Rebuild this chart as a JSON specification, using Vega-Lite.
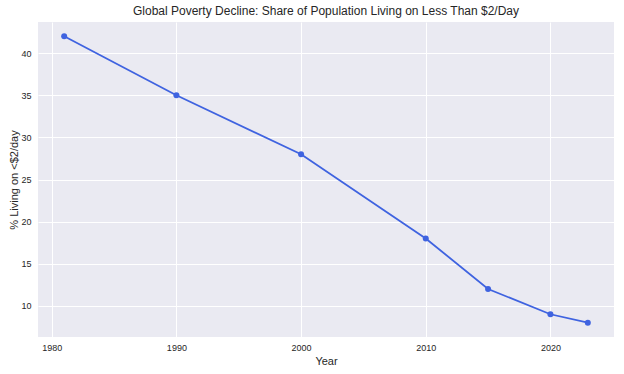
{
  "$schema": "https://vega.github.io/schema/vega-lite/v6.json",
  "width": 576,
  "height": 315,
  "autosize": {"type": "none"},
  "padding": {"left": 38, "top": 22, "right": 10, "bottom": 37},
  "background": "white",
  "title": {
    "text": "Global Poverty Decline: Share of Population Living on Less Than $2/Day",
    "font": "Liberation Sans",
    "fontSize": 12,
    "fontWeight": "normal",
    "color": "#262626",
    "anchor": "middle",
    "offset": 4
  },
  "config": {
    "view": {"fill": "#EAEAF2", "stroke": null},
    "axis": {
      "labelFont": "Liberation Sans",
      "titleFont": "Liberation Sans",
      "labelFontSize": 9,
      "titleFontSize": 11,
      "titleFontWeight": "normal",
      "labelColor": "#262626",
      "titleColor": "#262626",
      "gridColor": "white",
      "gridWidth": 1,
      "gridOpacity": 1,
      "domain": false,
      "ticks": false
    }
  },
  "data": {
    "values": [
      {"year": 1981, "pct": 42},
      {"year": 1990, "pct": 35},
      {"year": 2000, "pct": 28},
      {"year": 2010, "pct": 18},
      {"year": 2015, "pct": 12},
      {"year": 2020, "pct": 9},
      {"year": 2023, "pct": 8}
    ]
  },
  "mark": {"type": "line", "color": "#3f63e0", "strokeWidth": 1.8, "point": {"filled": true, "size": 36, "color": "#3f63e0"}},
  "encoding": {
    "x": {
      "field": "year",
      "type": "quantitative",
      "title": "Year",
      "scale": {"domain": [1978.9, 2025.1], "nice": false, "zero": false},
      "axis": {"values": [1980, 1990, 2000, 2010, 2020], "format": "d", "labelPadding": 6, "titlePadding": 3}
    },
    "y": {
      "field": "pct",
      "type": "quantitative",
      "title": "% Living on <$2/day",
      "scale": {"domain": [6.3, 43.7], "nice": false, "zero": false},
      "axis": {"values": [10, 15, 20, 25, 30, 35, 40], "labelPadding": 7, "titlePadding": 1}
    }
  }
}
